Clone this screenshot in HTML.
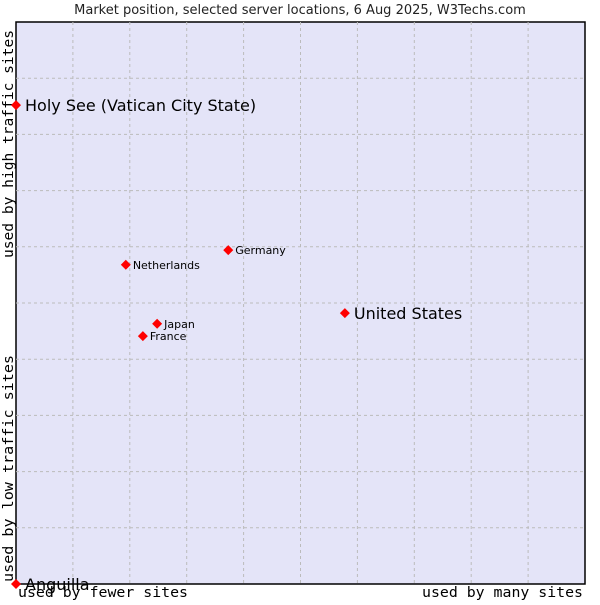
<!DOCTYPE html>
<html><head><meta charset="utf-8"><style>
body{margin:0;background:#fff;width:600px;height:600px;overflow:hidden}
svg text{font-family:"DejaVu Sans","Liberation Sans",sans-serif}
.mono{font-family:"DejaVu Sans Mono","Liberation Mono",monospace}
</style></head><body>
<svg id="c" width="600" height="600">
<text x="300" y="14" font-size="13" text-anchor="middle" fill="#222">Market position, selected server locations, 6 Aug 2025, W3Techs.com</text>
<rect x="16" y="22" width="569" height="562" fill="#e4e4f8" stroke="#000" stroke-width="1.5"/>
<g id="grid"></g>
<text class="mono" transform="translate(13,258) rotate(-90)" font-size="14" textLength="228" lengthAdjust="spacingAndGlyphs" fill="#000">used by high traffic sites</text>
<text class="mono" transform="translate(13,582) rotate(-90)" font-size="14" textLength="227" lengthAdjust="spacingAndGlyphs" fill="#000">used by low traffic sites</text>
<text class="mono" x="18" y="597" font-size="14" textLength="170" lengthAdjust="spacingAndGlyphs" fill="#000">used by fewer sites</text>
<text class="mono" x="422" y="597" font-size="14" textLength="161" lengthAdjust="spacingAndGlyphs" fill="#000">used by many sites</text>
<g id="pts"></g>
</svg>
<script>
const names=["Holy See (Vatican City State)","Netherlands","Germany","United States","Japan","France","Anguilla"];
const xs=[0,19.3,37.3,57.8,24.8,22.3,0];
const ys=[85.2,56.8,59.4,48.2,46.3,44.1,0];
const big=[true,false,false,true,false,false,true];
const X=v=>16+v/100*569, Y=v=>584-v/100*562;
const NS="http://www.w3.org/2000/svg";
const g=document.getElementById('grid');
for(let i=1;i<10;i++){
 const l=document.createElementNS(NS,'line');
 l.setAttribute('x1',X(i*10));l.setAttribute('x2',X(i*10));l.setAttribute('y1',22);l.setAttribute('y2',584);
 l.setAttribute('stroke','#bbb');l.setAttribute('stroke-dasharray','3,3');
 
 
 g.appendChild(l);
 const h=document.createElementNS(NS,'line');
 h.setAttribute('y1',Y(i*10));h.setAttribute('y2',Y(i*10));h.setAttribute('x1',16);h.setAttribute('x2',585);
 h.setAttribute('stroke','#bbb');h.setAttribute('stroke-dasharray','3,3');
 
 
 g.appendChild(h);
}
const p=document.getElementById('pts');
names.forEach((n,i)=>{
 const cx=X(xs[i]),cy=Y(ys[i]);
 const m=document.createElementNS(NS,'polygon');
 m.setAttribute('points',`${cx},${cy-5} ${cx+5},${cy} ${cx},${cy+5} ${cx-5},${cy}`);
 m.setAttribute('fill','#f00');
 
 
 p.appendChild(m);
 const t=document.createElementNS(NS,'text');
 t.setAttribute('x',cx+(big[i]?9:7));t.setAttribute('y',cy+(big[i]?6:4));
 t.setAttribute('font-size',big[i]?16:11);t.setAttribute('fill','#000');
 t.textContent=n;
 
 
 p.appendChild(t);
});
</script>
</body></html>
